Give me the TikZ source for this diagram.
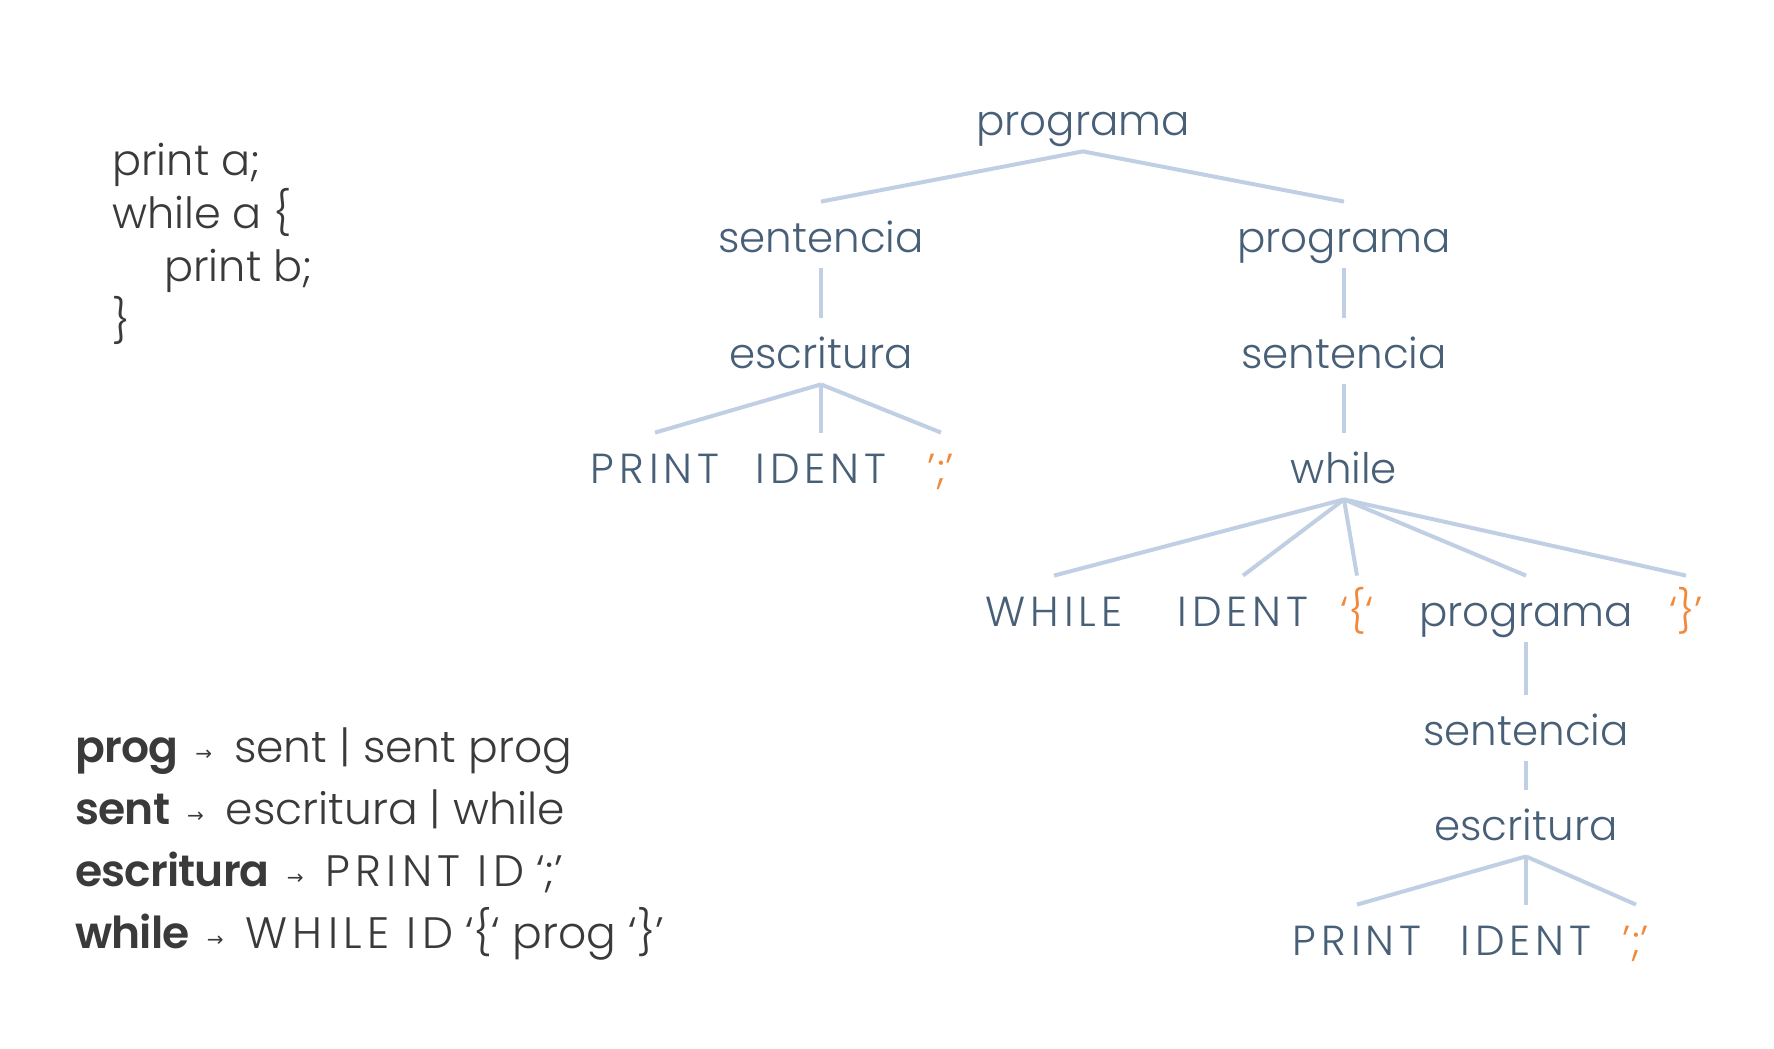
\documentclass[tikz,border=0pt]{standalone}
\usepackage{fontspec}
\setmainfont{Poppins}[UprightFont=* Light, BoldFont=* SemiBold]
\newfontfamily\arrowfont{DejaVu Sans}

\definecolor{treeblue}{RGB}{72,95,120}
\definecolor{edgeblue}{RGB}{192,207,228}
\definecolor{quoteorange}{RGB}{242,137,58}
\definecolor{codegray}{RGB}{58,58,58}

\newcommand{\arr}{\hspace{2.5pt}{\arrowfont\fontsize{10}{10}\selectfont\raisebox{1pt}{→}}\hspace{5pt}}
\newcommand{\capsp}[1]{{\addfontfeature{LetterSpace=12}#1}}
\newcommand{\lhs}[1]{{\bfseries\addfontfeature{LetterSpace=-2}#1}}

\tikzset{
  tnode/.style={anchor=base, text=treeblue, font=\fontsize{21}{21}\selectfont,
    inner xsep=0pt, inner ysep=8pt, text height=17pt, text depth=0pt},
  capnode/.style={tnode, font=\fontsize{21}{21}\selectfont\addfontfeature{LetterSpace=12}},
  qnode/.style={tnode, text=quoteorange},
  branch/.style={draw=edgeblue, line width=2pt},
  codeline/.style={anchor=base west, inner sep=0pt, text=codegray, font=\fontsize{21.5}{21.5}\selectfont},
  ruleline/.style={anchor=base west, inner sep=0pt, text=codegray, font=\fontsize{22}{22}\selectfont},
}

\begin{document}
\begin{tikzpicture}[x=0.5pt,y=-0.5pt]
\useasboundingbox (0,0) rectangle (1774,1049);

% source code
\node[codeline] (code1) at (112,175) {print a;};
\node[codeline] (code2) at (112,228) {while a \{};
\node[codeline] (code3) at (164,281) {print b;};
\node[codeline] (code4) at (112,336) {\}};

% grammar
\node[ruleline] (rprog) at (75,762) {\lhs{prog} \arr{} sent | sent prog};
\node[ruleline] (rsent) at (75,824) {\lhs{sent} \arr{} escritura | while};
\node[ruleline] (rescr) at (75,886) {\lhs{escritura} \arr{} \capsp{PRINT ID} ‘;’};
\node[ruleline] (rwhile) at (75,948) {\lhs{while} \arr{} \capsp{WHILE ID} ‘\{‘ prog ‘\}’};

% tree
\node[tnode] (prog0) at (1083,135) {programa};
\node[tnode] (sent1) at (821,252) {sentencia};
\node[tnode] (prog1) at (1344,252) {programa};
\node[tnode] (escr1) at (821,368) {escritura};
\node[tnode] (sent2) at (1344,368) {sentencia};
\node[capnode] (print1) at (655,483) {PRINT};
\node[capnode] (ident1) at (821,483) {IDENT};
\node[qnode] (semi1) at (941,483) {’;’};
\node[tnode] (while1) at (1344,483) {while};
\node[capnode] (whilekw) at (1054,626) {WHILE};
\node[capnode] (ident2) at (1243,626) {IDENT};
\node[qnode] (lbrace) at (1357,626) {‘\{‘};
\node[tnode] (prog2) at (1526,626) {programa};
\node[qnode] (rbrace) at (1686,626) {‘\}’};
\node[tnode] (sent3) at (1526,745) {sentencia};
\node[tnode] (escr2) at (1526,840) {escritura};
\node[capnode] (print2) at (1357,955) {PRINT};
\node[capnode] (ident3) at (1526,955) {IDENT};
\node[qnode] (semi2) at (1636,955) {’;’};

\draw[branch] (sent1.north) -- (prog0.south) -- (prog1.north);
\draw[branch] (sent1.south) -- (escr1.north);
\draw[branch] (prog1.south) -- (sent2.north);
\draw[branch] (escr1.south) -- (print1.north);
\draw[branch] (escr1.south) -- (ident1.north);
\draw[branch] (escr1.south) -- (semi1.north);
\draw[branch] (sent2.south) -- (while1.north);
\foreach \kid in {whilekw,ident2,lbrace,prog2,rbrace}
  \draw[branch] (while1.south) -- (\kid.north);
\draw[branch] (prog2.south) -- (sent3.north);
\draw[branch] (sent3.south) -- (escr2.north);
\foreach \kid in {print2,ident3,semi2}
  \draw[branch] (escr2.south) -- (\kid.north);
\end{tikzpicture}
\end{document}
